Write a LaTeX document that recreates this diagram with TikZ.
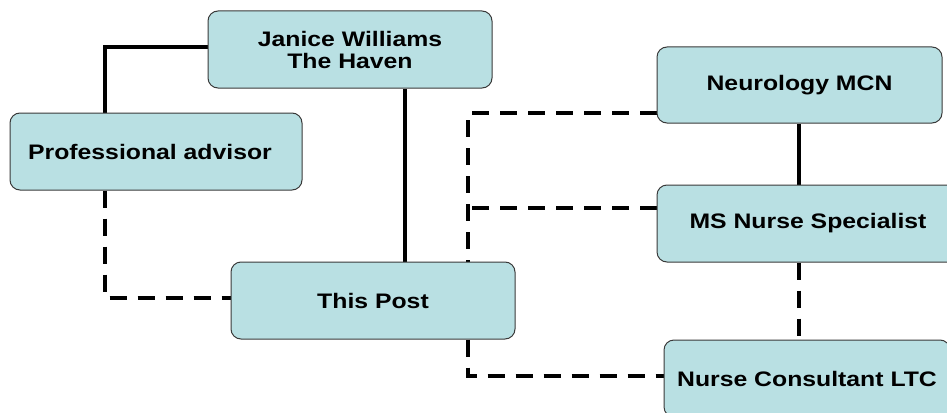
\documentclass[tikz,border=0pt]{standalone}
\usepackage{fontspec}
\setmainfont{Liberation Sans}[FakeStretch=1.18]
\usetikzlibrary{backgrounds}
\definecolor{boxfill}{HTML}{B9E0E3}
\definecolor{boxline}{HTML}{3A3A3A}
\tikzset{
  orgbox/.style={draw=boxline, line width=1pt, fill=boxfill, rounded corners=10pt,
    minimum height=77pt, inner sep=0pt, align=center,
    font=\fontsize{21}{22}\selectfont\bfseries},
  solidlink/.style={line width=4pt, black},
  dashlink/.style={line width=4pt, black, dash pattern=on 17pt off 11pt}
}
\begin{document}
\begin{tikzpicture}[x=1pt,y=-1pt]
\useasboundingbox (0,0) rectangle (947,412);
\clip (0,0) rectangle (947,412);
\node[orgbox, minimum width=284pt] (janice) at (350,49.5) {Janice Williams\\The Haven};
\node[orgbox, minimum width=292pt] (prof) at (156,151.5) {Professional advisor\hspace*{12pt}};
\node[orgbox, minimum width=284pt] (post) at (373,300.5) {This Post};
\node[orgbox, minimum width=285pt, minimum height=76pt] (neuro) at (799.5,85) {Neurology MCN};
\node[orgbox, minimum width=302pt] (ms) at (808,223.5) {MS Nurse Specialist};
\node[orgbox, minimum width=286pt] (nc) at (807,378.5) {Nurse Consultant LTC};
\coordinate (msjoin) at (468,208);
\begin{pgfonlayer}{background}
\draw[solidlink] ([yshift=2.5pt]janice.west) -| ([xshift=-51pt]prof.north);
\draw[solidlink] ([xshift=55pt]janice.south) -- ([xshift=32pt]post.north);
\draw[dashlink] ([xshift=-51pt]prof.south) |- ([yshift=2.5pt]post.west);
\draw[dashlink] ([yshift=-27.5pt]neuro.west) -| ([xshift=95pt]post.north);
\draw[dashlink] ([yshift=15.5pt]ms.west) -- (msjoin);
\draw[dashlink] ([xshift=95pt]post.south) |- ([yshift=2.5pt]nc.west);
\draw[solidlink] ([xshift=-0.5pt]neuro.south) -- ([xshift=-9pt]ms.north);
\draw[dashlink] ([xshift=-9pt]ms.south) -- ([xshift=-8pt]nc.north);
\end{pgfonlayer}
\end{tikzpicture}
\end{document}
